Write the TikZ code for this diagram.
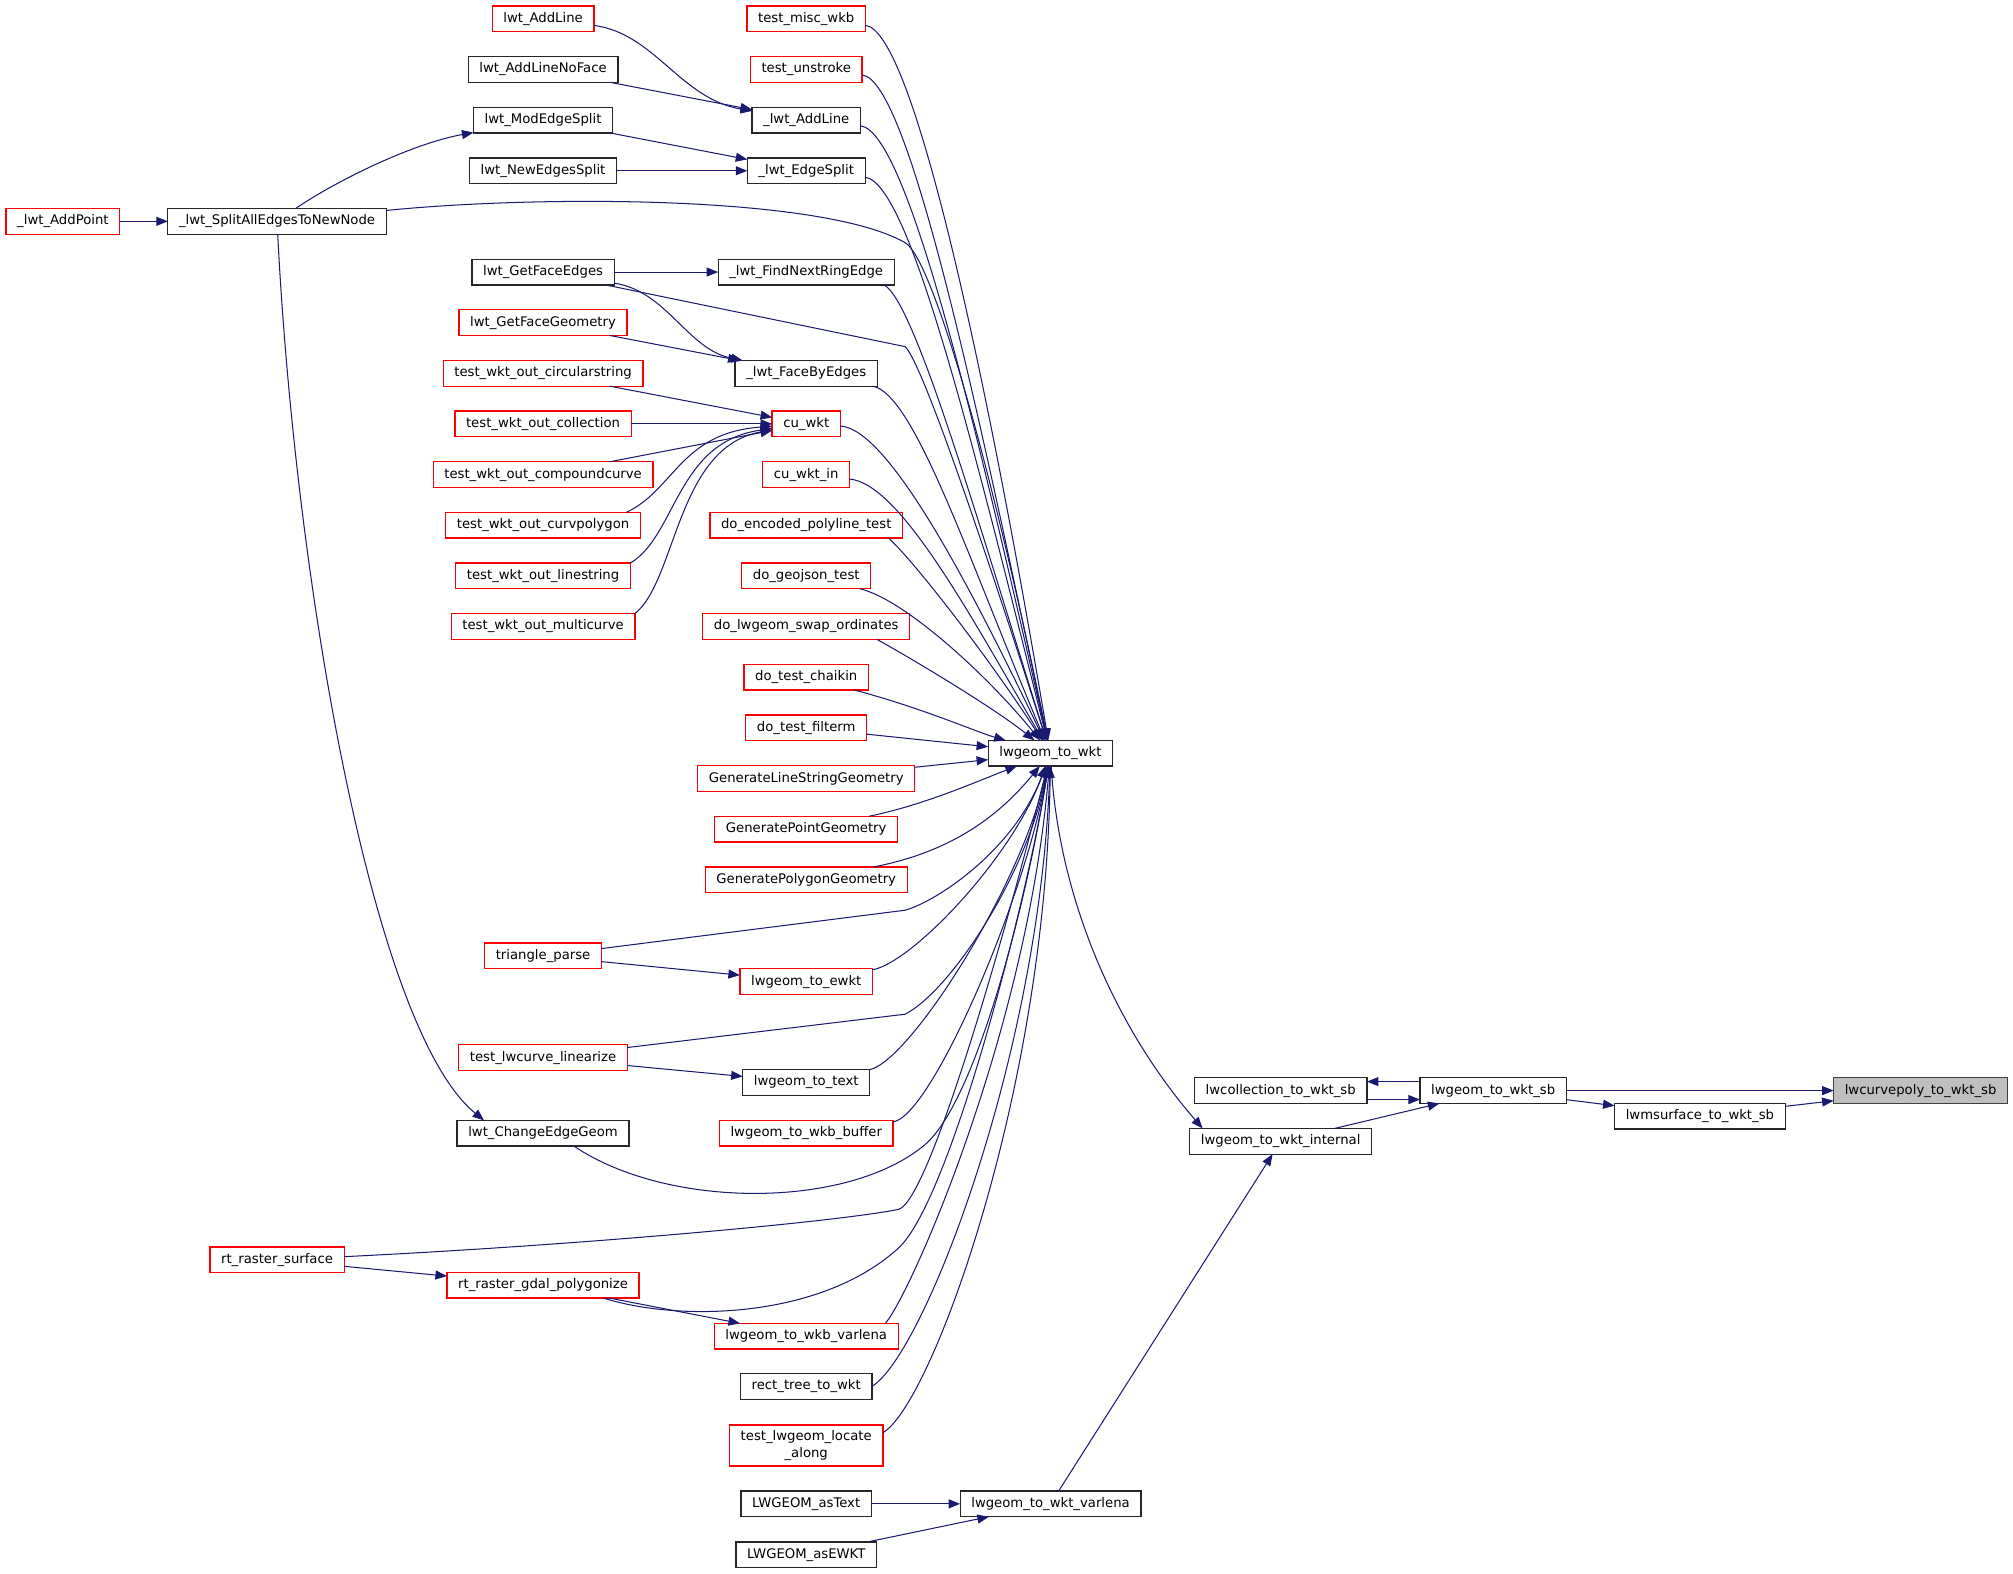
\documentclass[tikz,border=0pt]{standalone}
\usepackage{fontspec}
\setmainfont{DejaVu Sans}
\usepackage{xcolor}
\usepackage{tikz}
\usetikzlibrary{arrows.meta}
\definecolor{edgeblue}{HTML}{191970}
\definecolor{rootgrey}{HTML}{BFBFBF}

\begin{document}
\begin{tikzpicture}[x=1pt,y=1pt,
  fn/.style={draw=black!85, line width=1pt, fill=white, rectangle, minimum height=20pt,
    inner xsep=8.7pt, inner ysep=0pt, outer sep=0pt, font=\fontsize{10.3pt}{13pt}\selectfont},
  fnred/.style={fn, draw=red},
  fnroot/.style={fn, fill=rootgrey, draw=black!75},
  call/.style={draw=edgeblue, -{Triangle[length=9pt,width=7pt]}}]
\useasboundingbox (0,0) rectangle (1568,-1225.3);

\node[fnred] (a1) at (49,-172.4) {\_lwt\_AddPoint};
\node[fn] (a2) at (215.8,-172.4) {\_lwt\_SplitAllEdgesToNewNode};
\node[fnred] (a3) at (215.8,-981.4) {rt\_raster\_surface};

\node[fnred] (b1) at (423,-14.6) {lwt\_AddLine};
\node[fn] (b2) at (423,-54.1) {lwt\_AddLineNoFace};
\node[fn] (b3) at (423,-93.5) {lwt\_ModEdgeSplit};
\node[fn] (b4) at (423,-133) {lwt\_NewEdgesSplit};
\node[fn] (b5) at (423,-211.9) {lwt\_GetFaceEdges};
\node[fnred] (b6) at (423,-251.3) {lwt\_GetFaceGeometry};
\node[fnred] (b7) at (423,-290.8) {test\_wkt\_out\_circularstring};
\node[fnred] (b8) at (423,-330.2) {test\_wkt\_out\_collection};
\node[fnred] (b9) at (423,-369.7) {test\_wkt\_out\_compoundcurve};
\node[fnred] (b10) at (423,-409.1) {test\_wkt\_out\_curvpolygon};
\node[fnred] (b11) at (423,-448.6) {test\_wkt\_out\_linestring};
\node[fnred] (b12) at (423,-488) {test\_wkt\_out\_multicurve};
\node[fnred] (b13) at (423,-744.6) {triangle\_parse};
\node[fnred] (b14) at (423,-823.8) {test\_lwcurve\_linearize};
\node[fn] (b15) at (423,-882.7) {lwt\_ChangeEdgeGeom};
\node[fnred] (b16) at (423,-1001.1) {rt\_raster\_gdal\_polygonize};

\node[fnred] (c1) at (628,-14.6) {test\_misc\_wkb};
\node[fnred] (c2) at (628,-54.1) {test\_unstroke};
\node[fn] (c3) at (628,-93.5) {\_lwt\_AddLine};
\node[fn] (c4) at (628,-133) {\_lwt\_EdgeSplit};
\node[fn] (c5) at (628,-211.9) {\_lwt\_FindNextRingEdge};
\node[fn] (c6) at (628,-290.8) {\_lwt\_FaceByEdges};
\node[fnred] (c7) at (628,-330.2) {cu\_wkt};
\node[fnred] (c8) at (628,-369.7) {cu\_wkt\_in};
\node[fnred] (c9) at (628,-409.1) {do\_encoded\_polyline\_test};
\node[fnred] (c10) at (628,-448.6) {do\_geojson\_test};
\node[fnred] (c11) at (628,-488) {do\_lwgeom\_swap\_ordinates};
\node[fnred] (c12) at (628,-527.5) {do\_test\_chaikin};
\node[fnred] (c13) at (628,-567) {do\_test\_filterm};
\node[fnred] (c14) at (628,-606.4) {GenerateLineStringGeometry};
\node[fnred] (c15) at (628,-645.8) {GeneratePointGeometry};
\node[fnred] (c16) at (628,-685.3) {GeneratePolygonGeometry};
\node[fnred] (c17) at (628,-764.6) {lwgeom\_to\_ewkt};
\node[fn] (c18) at (628,-843.1) {lwgeom\_to\_text};
\node[fnred] (c19) at (628,-882.7) {lwgeom\_to\_wkb\_buffer};
\node[fnred] (c20) at (628,-1040.8) {lwgeom\_to\_wkb\_varlena};
\node[fn] (c21) at (628,-1079.9) {rect\_tree\_to\_wkt};
\node[fnred, minimum height=32pt, align=center] (c22) at (628,-1125.9) {test\_lwgeom\_locate\\\_along};
\node[fn] (c23) at (628,-1171.4) {LWGEOM\_asText};
\node[fn] (c24) at (628,-1211) {LWGEOM\_asEWKT};

\node[fn] (d1) at (818.2,-586.7) {lwgeom\_to\_wkt};
\node[fn] (d2) at (818.3,-1171.4) {lwgeom\_to\_wkt\_varlena};
\node[fn] (e1) at (997.6,-849.5) {lwcollection\_to\_wkt\_sb};
\node[fn] (e2) at (997.6,-889) {lwgeom\_to\_wkt\_internal};
\node[fn] (f1) at (1163.1,-849.5) {lwgeom\_to\_wkt\_sb};
\node[fn] (g1) at (1324.1,-869.5) {lwmsurface\_to\_wkt\_sb};
\node[fnroot] (h1) at (1496,-849.5) {lwcurvepoly\_to\_wkt\_sb};

\begin{scope}
     \pgfsetlinewidth{0.8pt}
% callers of lwgeom_to_wkt, top side
\draw[call] (c1) .. controls (712,-24) and (770,-300) .. (d1);
\draw[call] (c2) .. controls (708,-62) and (762,-320) .. (d1);
\draw[call] (c3) .. controls (707,-102) and (761,-335) .. (d1);
\draw[call] (c4) .. controls (709,-142) and (760,-355) .. (d1);
\draw[call] (a2) .. controls (420,-152) and (640,-152) .. (705,-189) .. controls (725,-200) and (770,-350) .. (d1);
\draw[call] ([xshift=-8pt]c5.south east) .. controls (712,-234) and (760,-400) .. (d1);
\draw[call] (b5) -- (705,-270) .. controls (718,-282) and (765,-420) .. (d1);
\draw[call] (c6) .. controls (712,-307) and (753,-432) .. (d1);
\draw[call] (c7) .. controls (690,-334) and (749,-442) .. (d1);
\draw[call] (c8) .. controls (700,-377) and (752,-472) .. (d1);
\draw[call] ([xshift=-11pt]c9.south east) .. controls (712,-437) and (770,-512) .. (d1);
\draw[call] (c10) .. controls (705,-467) and (770,-527) .. (d1);
\draw[call] ([xshift=55pt]c11.south) .. controls (712,-514) and (775,-552) .. (d1);
\draw[call] (c12) .. controls (720,-552) and (760,-570) .. (d1);
\draw[call] (c13) -- (d1);
\draw[call] (c14) -- (d1);
% callers of lwgeom_to_wkt, bottom side
\draw[call] (c15) .. controls (720,-627) and (760,-609) .. (d1);
\draw[call] (c16) .. controls (750,-662) and (785,-627) .. (d1);
\draw[call] (b13) -- (705,-709) .. controls (730,-702) and (790,-662) .. (d1);
\draw[call] (c17) .. controls (710,-750) and (788,-669) .. (d1);
\draw[call] (b14) -- (705,-790) .. controls (740,-772) and (800,-682) .. (d1);
\draw[call] (c18) .. controls (708,-827) and (795,-692) .. (d1);
\draw[call] (c19) .. controls (725,-870) and (798,-702) .. (d1);
\draw[call] ([xshift=24pt]b15.south) .. controls (520,-942) and (660,-942) .. (720,-892) .. controls (760,-859) and (800,-702) .. (d1);
\draw[call] (a3) .. controls (450,-970) and (650,-952) .. (700,-942) .. controls (725,-935) and (790,-702) .. (d1);
\draw[call] ([xshift=47pt]b16.south) .. controls (530,-1030) and (640,-1027) .. (700,-972) .. controls (740,-935) and (800,-702) .. (d1);
\draw[call] ([xshift=-10pt]c20.north east) .. controls (710,-1007) and (800,-802) .. (d1);
\draw[call] (c21.east) .. controls (720,-1055) and (810,-820) .. (d1);
\draw[call] ([yshift=10pt]c22.east) .. controls (725,-1095) and (815,-850) .. (d1);

% cu_wkt
\draw[call] (b7) -- (c7);
\draw[call] (b8) -- (c7);
\draw[call] (b9) -- (c7);
\draw[call] ([xshift=-11pt]b10.north east) .. controls (525,-382) and (530,-337) .. (c7);
\draw[call] (b11.north east) .. controls (527,-417) and (527,-344) .. (c7);
\draw[call] (b12.north east) .. controls (527,-452) and (527,-348) .. (c7);

% topology
\draw[call] (a1) -- (a2);
\draw[call] (a2) .. controls (260,-142) and (320,-112) .. (b3);
\draw[call] (a2) .. controls (230,-452) and (290,-802) .. ([xshift=21pt]b15.north west);
\draw[call] (b1) .. controls (510,-26) and (530,-77) .. (c3);
\draw[call] (b2) -- (c3);
\draw[call] (b3) -- (c4);
\draw[call] (b4) -- (c4);
\draw[call] (b5) -- (c5);
\draw[call] (b5) .. controls (520,-227) and (535,-272) .. (c6);
\draw[call] (b6) -- (c6);
\draw[call] (b13) -- (c17);
\draw[call] (b14) -- (c18);
\draw[call] (a3) -- (b16);
\draw[call] (b16) -- (c20);
\draw[call] (c23) -- (d2);
\draw[call] (c24) -- (d2);

% right part
\draw[call] (d2) -- (e2);
\draw[call] (d1) .. controls (825,-702) and (870,-802) .. ([xshift=10pt]e2.north west);
\draw[call] (e2) -- (f1);
\draw[call] ([yshift=7pt]f1.west) -- ([yshift=7pt]e1.east);
\draw[call] ([yshift=-7pt]e1.east) -- ([yshift=-7pt]f1.west);
\draw[call] (f1) -- (h1);
\draw[call] (f1) -- (g1);
\draw[call] (g1) -- (h1);
     \end{scope}

\end{tikzpicture}
\end{document}
